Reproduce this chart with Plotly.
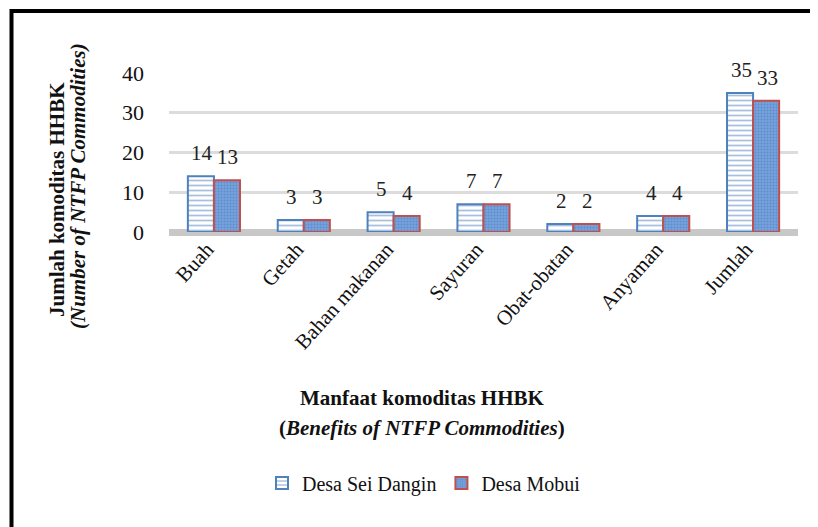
import plotly.graph_objects as go

categories = ["Buah", "Getah", "Bahan makanan", "Sayuran", "Obat-obatan", "Anyaman", "Jumlah"]
sei_dangin = [14, 3, 5, 7, 2, 4, 35]
mobui = [13, 3, 4, 7, 2, 4, 33]
y_ticks = [0, 10, 20, 30, 40]

# the page adds an 8px body margin; lay out in screen pixels, then shift
O = 8
SW, SH = 818, 527
W, H = SW - O, SH - O
L, R = 169 - O, 20
T, B = 73 - O, SH - 232
PW = W - L - R
PH = H - T - B


def px(x):
    return (x - O - L) / PW


def py(y):
    return (H - B - (y - O)) / PH


FONT = "Liberation Serif, Times New Roman, serif"

fig = go.Figure()
fig.add_trace(go.Bar(
    name="Desa Sei Dangin", x=categories, y=sei_dangin,
    marker=dict(color="white",
                line=dict(color="#4f81bd", width=2),
                pattern=dict(shape="-", fgcolor="#4f81bd", bgcolor="white", size=5, solidity=0.35)),
))
fig.add_trace(go.Bar(
    name="Desa Mobui", x=categories, y=mobui,
    marker=dict(color="#6b99d6",
                line=dict(color="#c0504d", width=2),
                pattern=dict(shape=".", fgcolor="#4574b8", bgcolor="#76a2dc", size=3, solidity=0.35)),
))

# value labels above each bar
for vals, dx in ((sei_dangin, -12), (mobui, 14)):
    for c, v in zip(categories, vals):
        fig.add_annotation(x=c, y=v, xref="x", yref="y", text=str(v), showarrow=False,
                           xanchor="center", yanchor="bottom", xshift=dx, yshift=9,
                           font=dict(family=FONT, size=21, color="#222"))

fig.update_layout(
    width=W, height=H,
    margin=dict(l=L, r=R, t=T, b=B),
    paper_bgcolor="white", plot_bgcolor="white",
    barmode="group", bargap=0.42, bargroupgap=0.0,
    font=dict(family=FONT, size=20, color="#111"),
    showlegend=True,
    legend=dict(orientation="h", x=px(424), xanchor="center", y=py(483), yanchor="middle",
                font=dict(family=FONT, size=20, color="#111"), itemwidth=30,
                traceorder="normal", bgcolor="rgba(0,0,0,0)"),
    xaxis=dict(tickangle=-48, tickfont=dict(family=FONT, size=21, color="#111"),
               showline=False, showgrid=False, ticks="", ticklabelshift=-7),
    yaxis=dict(range=[0, 40], tickvals=y_ticks, tickfont=dict(family=FONT, size=22, color="#111"),
               showgrid=True, gridcolor="#dcdcdc", gridwidth=3,
               zeroline=True, zerolinecolor="#c8c8c8", zerolinewidth=7,
               showline=False, ticks="", ticklabelstandoff=24),
)

annotations = [
    dict(text="<b>Jumlah komoditas HHBK</b>", x=px(57), y=py(200), textangle=-90,
         font=dict(family=FONT, size=21, color="#111")),
    dict(text="<b><i>(Number of NTFP Commodities)</i></b>", x=px(78), y=py(186), textangle=-90,
         font=dict(family=FONT, size=21, color="#111")),
    dict(text="<b>Manfaat komoditas HHBK</b>", x=px(422), y=py(398),
         font=dict(family=FONT, size=21, color="#111")),
    dict(text="<b>(<i>Benefits of NTFP Commodities</i>)</b>", x=px(422), y=py(428),
         font=dict(family=FONT, size=21, color="#111")),
]
for a in annotations:
    a.update(xref="paper", yref="paper", showarrow=False, xanchor="center", yanchor="middle")
    fig.add_annotation(**a)

fig.add_shape(type="rect", xref="paper", yref="paper",
              x0=px(11.5), x1=px(SW + 20), y0=py(11), y1=py(SH + 20),
              line=dict(color="black", width=4), fillcolor="rgba(0,0,0,0)", layer="above")

fig.write_html("out.html")
